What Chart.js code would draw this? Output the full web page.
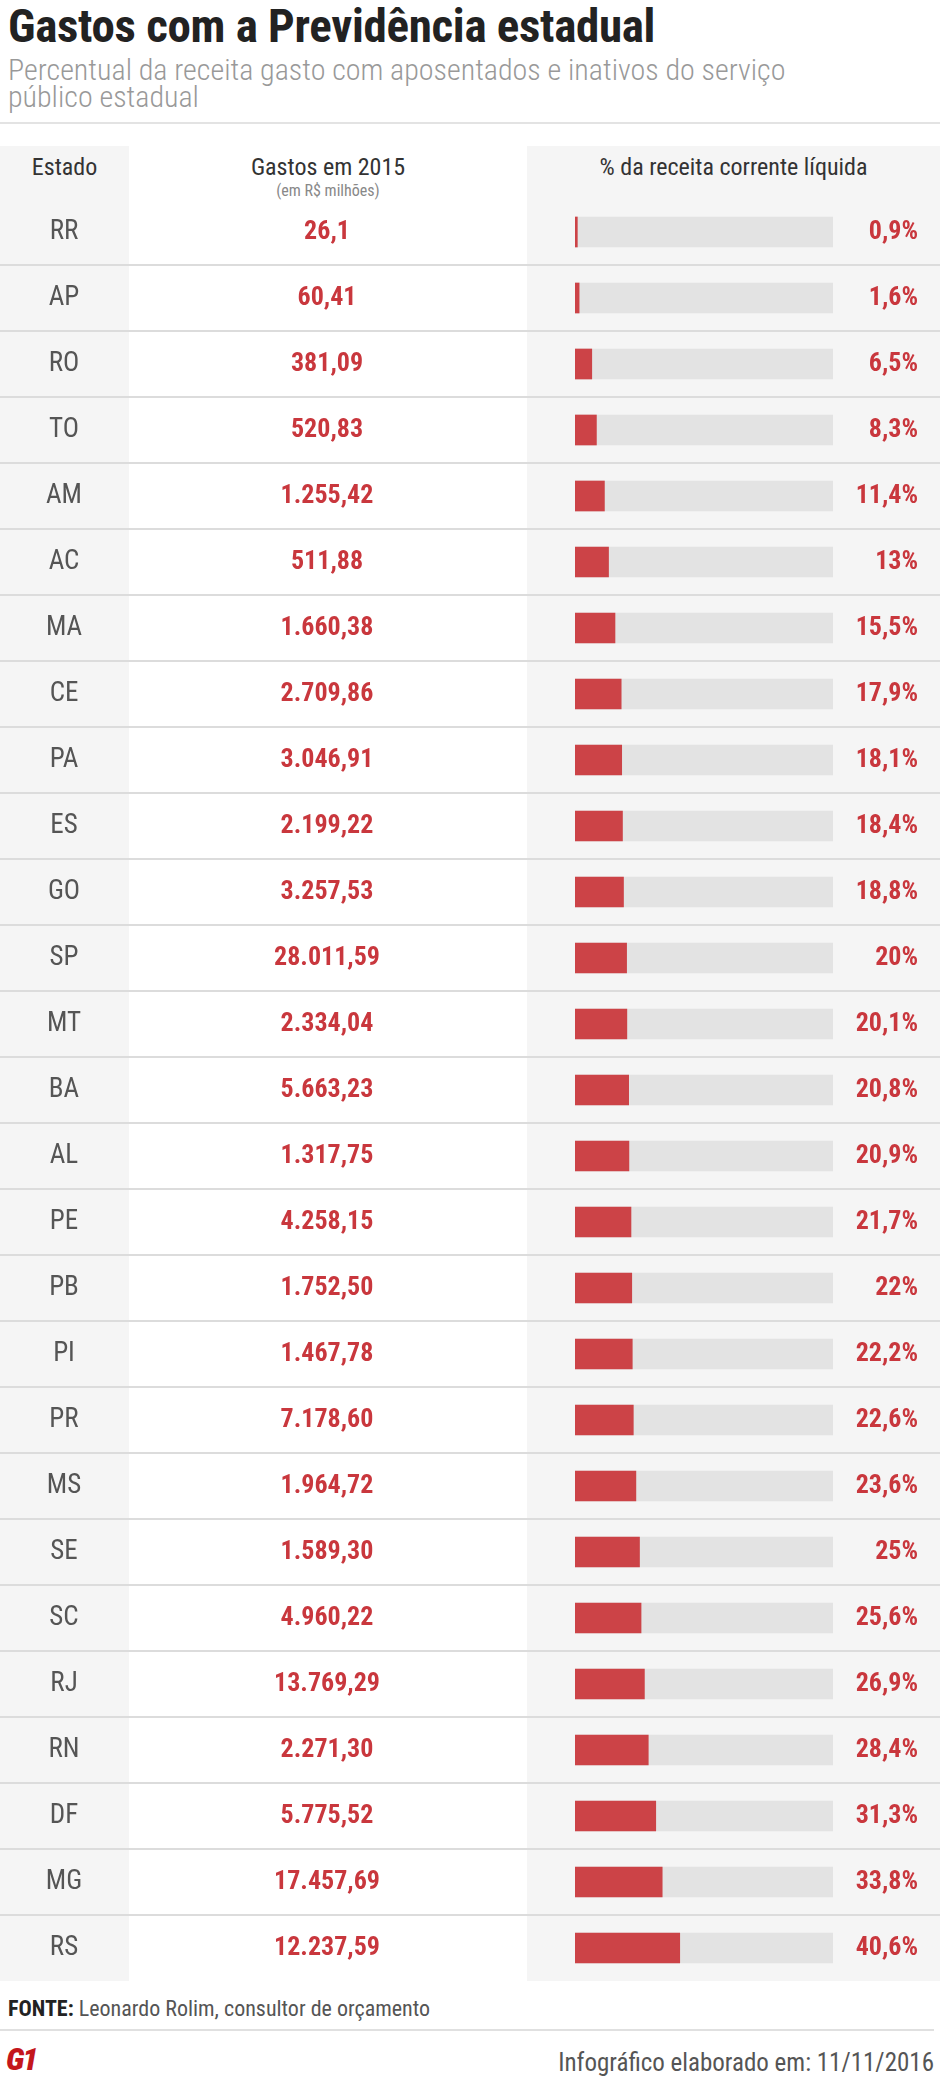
<!DOCTYPE html>
<html>
<head>
<meta charset="utf-8">
<script src="https://cdn.jsdelivr.net/npm/chart.js@4"></script>
<style>
  body { margin: 0; width: 940px; height: 2081px; background: #fff; position: relative; overflow: hidden;
    font-family: "Roboto Condensed", "Liberation Sans Narrow", Roboto, sans-serif; }
  .abs { position: absolute; }
  #title { left: 8px; top: -2px; font-size: 47px; font-weight: bold; color: #222; letter-spacing: -0.3px; }
  #sub { left: 8px; top: 56px; font-size: 30px; color: #999; line-height: 27px; font-weight: 300; }
  #rule { left: 0; top: 122px; width: 940px; height: 2px; background: #e3e3e3; }
  .grey { background: #f5f5f5; top: 146px; height: 1835px; }
  .hdr { top: 153px; font-size: 24px; color: #333; text-align: center; }
  #foot1 { left: 8px; top: 1996px; font-size: 22px; color: #555; }
  #foot1 b { color: #222; }
  #rule2 { left: 0; top: 2029px; width: 934px; height: 2px; background: #e0e0e0; }
  #g1 { left: 6px; top: 2040px; font-size: 32px; font-weight: 900; color: #c4161c; font-style: italic; letter-spacing: -2px; }
  #date { right: 6px; top: 2048px; font-size: 25px; color: #555; }
  #wrap { left: 0; top: 199px; width: 940px; height: 1782px; }
</style>
</head>
<body>
<div class="abs" id="title">Gastos com a Previdência estadual</div>
<div class="abs" id="sub">Percentual da receita gasto com aposentados e inativos do serviço<br>público estadual</div>
<div class="abs" id="rule"></div>
<div class="abs grey" style="left:0;width:129px"></div>
<div class="abs grey" style="left:527px;width:413px"></div>
<div class="abs hdr" style="left:0;width:129px">Estado</div>
<div class="abs hdr" style="left:129px;width:398px">Gastos em 2015<div style="font-size:16px;color:#888;margin-top:0px">(em R$ milhões)</div></div>
<div class="abs hdr" style="left:527px;width:413px">% da receita corrente líquida</div>
<div class="abs" id="wrap"><canvas id="c"></canvas></div>
<div class="abs" id="foot1"><b>FONTE:</b> Leonardo Rolim, consultor de orçamento</div>
<div class="abs" id="rule2"></div>
<div class="abs" id="g1">G1</div>
<div class="abs" id="date">Infográfico elaborado em: 11/11/2016</div>
<script>
const states = ['RR','AP','RO','TO','AM','AC','MA','CE','PA','ES','GO','SP','MT','BA','AL','PE','PB','PI','PR','MS','SE','SC','RJ','RN','DF','MG','RS'];
const spending = ['26,1','60,41','381,09','520,83','1.255,42','511,88','1.660,38','2.709,86','3.046,91','2.199,22','3.257,53','28.011,59','2.334,04','5.663,23','1.317,75','4.258,15','1.752,50','1.467,78','7.178,60','1.964,72','1.589,30','4.960,22','13.769,29','2.271,30','5.775,52','17.457,69','12.237,59'];
const share = [0.9,1.6,6.5,8.3,11.4,13,15.5,17.9,18.1,18.4,18.8,20,20.1,20.8,20.9,21.7,22,22.2,22.6,23.6,25,25.6,26.9,28.4,31.3,33.8,40.6];
const fullScale = states.map(() => 100);

const FONT = '"Roboto Condensed", "Liberation Sans Narrow", Roboto, sans-serif';
const RED = '#c9373d';

// row text and separators, drawn from the y scale
const rowText = {
  id: 'rowText',
  afterDatasetsDraw(chart) {
    const { ctx, scales: { y } } = chart;
    ctx.save();
    states.forEach((s, i) => {
      const yc = y.getPixelForValue(i);
      if (i > 0) {
        const top = (y.getPixelForValue(i - 1) + yc) / 2;
        ctx.fillStyle = '#dcdcdc';
        ctx.fillRect(0, Math.round(top) - 1, 940, 2);
      }
      ctx.textBaseline = 'middle';
      ctx.textAlign = 'center';
      ctx.font = '27px ' + FONT;
      ctx.fillStyle = '#555';
      ctx.fillText(s, 64, yc);
      ctx.font = 'bold 26px ' + FONT;
      ctx.fillStyle = RED;
      ctx.fillText(spending[i], 327, yc);
      ctx.textAlign = 'right';
      ctx.fillText(String(share[i]).replace('.', ',') + '%', 918, yc);
    });
    ctx.restore();
  }
};

new Chart(document.getElementById('c'), {
  type: 'bar',
  data: {
    labels: states,
    datasets: [
      { data: share, backgroundColor: '#cc4347', barThickness: 30, grouped: false, order: 0 },
      { data: fullScale, backgroundColor: '#e3e3e3', barThickness: 30, grouped: false, order: 1 }
    ]
  },
  options: {
    indexAxis: 'y',
    responsive: true,
    maintainAspectRatio: false,
    animation: false,
    layout: { padding: { left: 575, right: 107, top: 0, bottom: 0 } },
    plugins: { legend: { display: false }, tooltip: { enabled: false } },
    scales: {
      x: { display: false, min: 0, max: 100 },
      y: { display: false }
    }
  },
  plugins: [rowText]
});
</script>
</body>
</html>
